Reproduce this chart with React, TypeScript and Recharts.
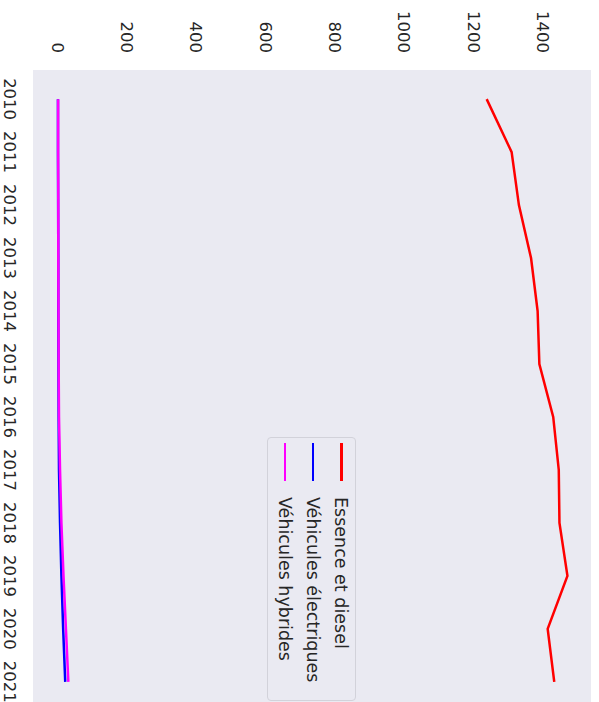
import React from 'react';
import { LineChart, Line, XAxis, YAxis, CartesianGrid, Legend } from 'recharts';

const years = [2010, 2011, 2012, 2013, 2014, 2015, 2016, 2017, 2018, 2019, 2020, 2021];
const essenceDiesel = [1238, 1310, 1331, 1366, 1385, 1390, 1430, 1446, 1448, 1471, 1414, 1433];
const electriques = [1, 1, 1.5, 2, 2, 2.5, 3, 4, 7, 11, 16, 22];
const hybrides = [1.5, 1.5, 2, 2, 2.5, 3, 4, 7, 11, 17, 24, 31];
const valueTicks = [0, 200, 400, 600, 800, 1000, 1200, 1400];

const seriesNames = ['Essence et diesel', 'Véhicules électriques', 'Véhicules hybrides'];
const seriesColors = ['#ff0000', '#0000ff', '#ff00ff'];
const seriesKeys = ['essence', 'electriques', 'hybrides'];

const data = years.map((y, i) => ({
  year: y,
  essence: essenceDiesel[i],
  electriques: electriques[i],
  hybrides: hybrides[i],
}));

const FONT = '"DejaVu Sans", sans-serif';
const TEXT = '#262626';

const LegendBox = () => (
  <div
    style={{
      position: 'relative',
      width: 264,
      height: 89,
      boxSizing: 'border-box',
      border: '1px solid #d2d2da',
      borderRadius: 4,
      background: '#eaeaf2',
      fontFamily: FONT,
      fontSize: 17.5,
      color: TEXT,
    }}
  >
    {seriesNames.map((name, i) => (
      <div
        key={name}
        style={{
          position: 'absolute',
          left: 0,
          top: 0.7 + i * 28.2 - 1,
          height: 28,
          width: 264,
          display: 'flex',
          alignItems: 'center',
        }}
      >
        <div style={{ marginLeft: 5, width: 38, height: 2.5, background: seriesColors[i] }} />
        <span style={{ marginLeft: 16, whiteSpace: 'nowrap', lineHeight: '28px' }}>{name}</span>
      </div>
    ))}
  </div>
);

export default function App() {
  return (
    <div
      style={{
        position: 'absolute',
        left: 0,
        top: 0,
        width: 599,
        height: 702,
        overflow: 'hidden',
        background: '#ffffff',
      }}
    >
      <div
        style={{
          position: 'absolute',
          left: 0,
          top: 0,
          width: 711,
          height: 599,
          transformOrigin: '0 0',
          transform: 'translate(599px, 0px) rotate(90deg)',
        }}
      >
        <LineChart
          width={711}
          height={599}
          data={data}
          margin={{ top: 8, right: 0, bottom: 0, left: 0 }}
        >
          <CartesianGrid fill="#eaeaf2" stroke="none" horizontal={false} vertical={false} />
          <XAxis
            dataKey="year"
            type="number"
            domain={[2009.45, 2021.55]}
            ticks={years}
            allowDataOverflow
            axisLine={false}
            tickLine={false}
            tickSize={0}
            tickMargin={17}
            height={33}
            interval={0}
            tick={{ fill: TEXT, fontSize: 16.5, fontFamily: FONT }}
          />
          <YAxis
            type="number"
            domain={[-71, 1539]}
            ticks={valueTicks}
            allowDataOverflow
            axisLine={false}
            tickLine={false}
            tickSize={0}
            tickMargin={17}
            width={70}
            interval={0}
            tick={{ fill: TEXT, fontSize: 16.5, fontFamily: FONT }}
          />
          <Legend
            layout="vertical"
            align="center"
            verticalAlign="middle"
            content={() => <LegendBox />}
            wrapperStyle={{ left: 437, top: 243, width: 264, height: 89 }}
          />
          {seriesKeys.map((k, i) => (
            <Line
              key={k}
              type="linear"
              dataKey={k}
              name={seriesNames[i]}
              stroke={seriesColors[i]}
              strokeWidth={2.5}
              dot={false}
              activeDot={false}
              isAnimationActive={false}
            />
          ))}
        </LineChart>
      </div>
    </div>
  );
}
